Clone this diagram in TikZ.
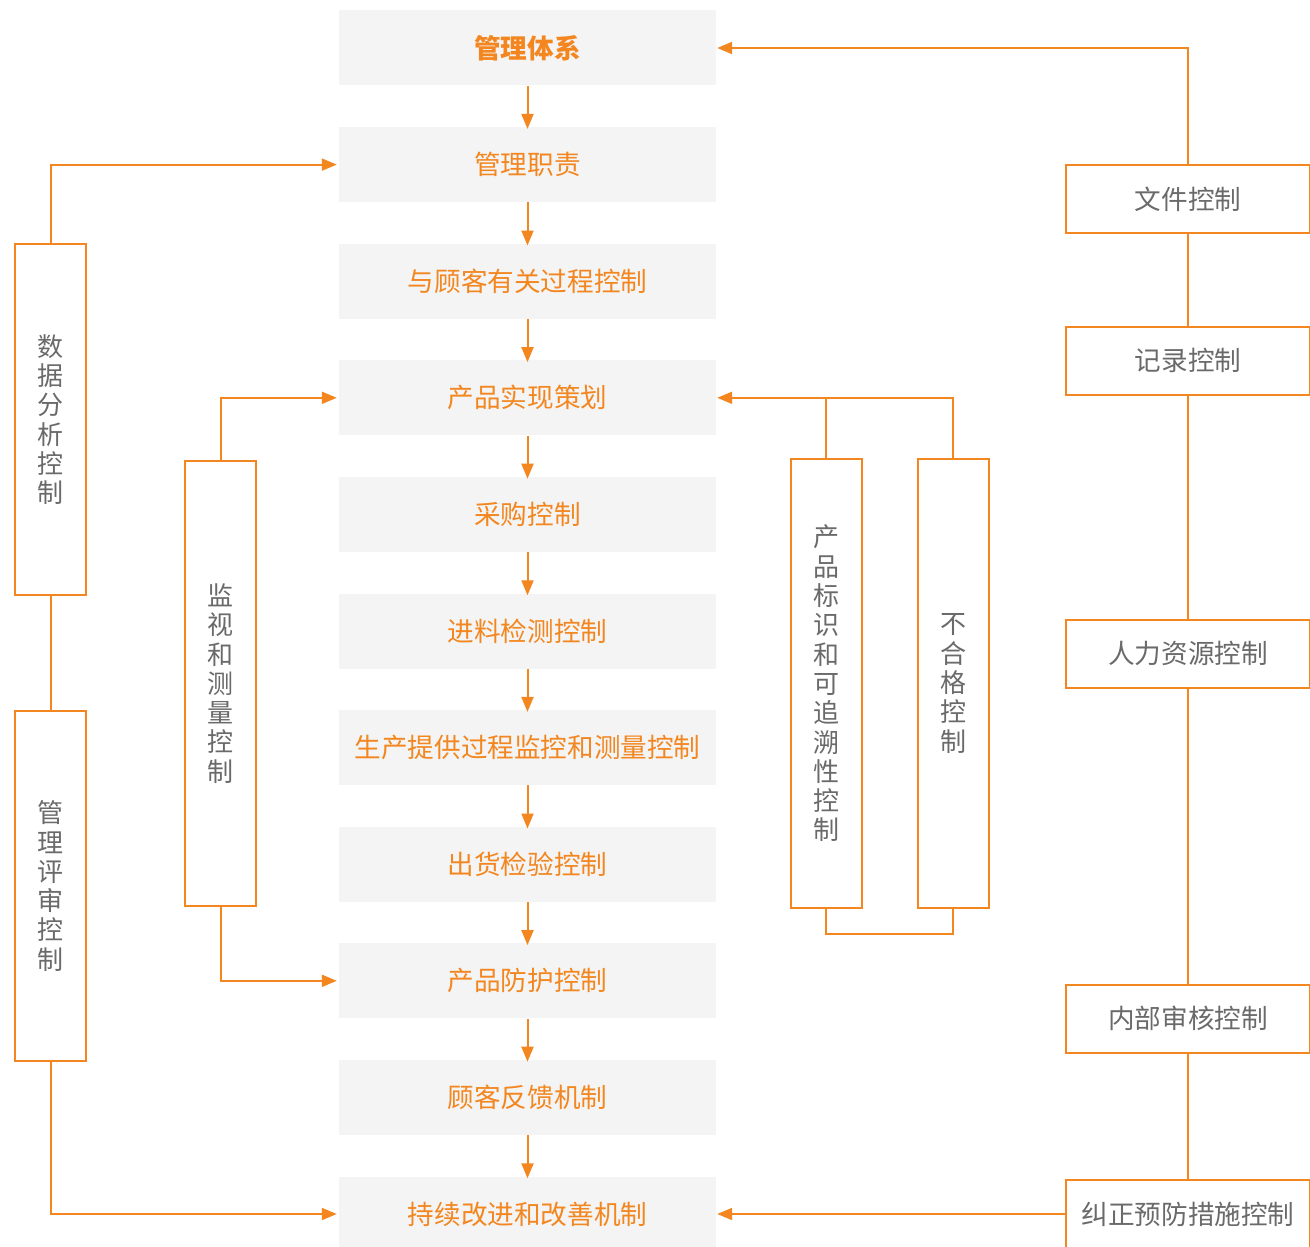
\documentclass[tikz,border=0pt]{standalone}
\usepackage{fontspec}
\setmainfont{Noto Sans CJK SC}
\usetikzlibrary{arrows.meta}
\definecolor{orng}{HTML}{F3861F}
\definecolor{boxgray}{HTML}{F4F4F4}
\definecolor{txtgray}{HTML}{6A6A6A}
\tikzset{
  mainbox/.style={fill=boxgray, minimum width=377pt, minimum height=75pt, inner sep=0pt, text=orng, font=\fontsize{26.6}{30}\selectfont},
  sidebox/.style={draw=orng, line width=2pt, fill=white, minimum width=244pt, minimum height=68pt, inner sep=0pt, text=txtgray, font=\fontsize{26.6}{30}\selectfont},
  vbox/.style={draw=orng, line width=2pt, fill=white, minimum width=71pt, inner sep=0pt, text=txtgray, align=center, font=\fontsize{26}{29.3}\selectfont},
  conn/.style={draw=orng, line width=2pt},
  arr/.style={conn, -{Triangle[length=15pt,width=12pt]}},
}
\begin{document}
\begin{tikzpicture}[x=1pt,y=-1pt]
\useasboundingbox (0,0) rectangle (1310,1247);
% main column
\node[mainbox, font=\fontsize{26.6}{30}\selectfont\bfseries] (c1) at (527.5,48) {管理体系};
\node[mainbox] (c2) at (527.5,164.6) {管理职责};
\node[mainbox] (c3) at (527.5,281.2) {与顾客有关过程控制};
\node[mainbox] (c4) at (527.5,397.8) {产品实现策划};
\node[mainbox] (c5) at (527.5,514.4) {采购控制};
\node[mainbox] (c6) at (527.5,631) {进料检测控制};
\node[mainbox] (c7) at (527.5,747.6) {生产提供过程监控和测量控制};
\node[mainbox] (c8) at (527.5,864.2) {出货检验控制};
\node[mainbox] (c9) at (527.5,980.8) {产品防护控制};
\node[mainbox] (c10) at (527.5,1097.4) {顾客反馈机制};
\node[mainbox] (c11) at (527.5,1214) {持续改进和改善机制};
\foreach \a/\b in {c1/c2,c2/c3,c3/c4,c4/c5,c5/c6,c6/c7,c7/c8,c8/c9,c9/c10,c10/c11}
  \draw[arr] (\a.south) -- ([yshift=-2pt]\b.north);
% right column
\node[sidebox] (r1) at (1188,199) {文件控制};
\node[sidebox] (r2) at (1188,360.5) {记录控制};
\node[sidebox] (r3) at (1188,653.5) {人力资源控制};
\node[sidebox] (r4) at (1188,1018.5) {内部审核控制};
\node[sidebox] (r5) at (1188,1214) {纠正预防措施控制};
\draw[conn] (r1) -- (r2);
\draw[conn] (r2) -- (r3);
\draw[conn] (r3) -- (r4);
\draw[conn] (r4) -- (r5);
\draw[arr] (r1.north) |- ([xshift=1pt]c1.east);
\draw[arr] (r5.west) -- ([xshift=1pt]c11.east);
% left column
\node[vbox, minimum height=351pt] (l1) at (50.5,419.5) {数\\据\\分\\析\\控\\制};
\node[vbox, minimum height=350pt] (l2) at (50.5,886) {管\\理\\评\\审\\控\\制};
\draw[conn] (l1) -- (l2);
\draw[arr] (l1.north) |- ([xshift=-2pt]c2.west);
\draw[arr] (l2.south) |- ([xshift=-2pt]c11.west);
% monitoring
\node[vbox, minimum height=445pt] (m) at (220.5,683.5) {监\\视\\和\\测\\量\\控\\制};
\draw[arr] (m.north) |- ([xshift=-2pt]c4.west);
\draw[arr] (m.south) |- ([xshift=-2pt]c9.west);
% product identification / nonconformity
\node[vbox, minimum height=449pt] (p1) at (826,683.5) {产\\品\\标\\识\\和\\可\\追\\溯\\性\\控\\制};
\node[vbox, minimum height=449pt] (p2) at (953,683.5) {不\\合\\格\\控\\制};
\draw[arr] (p2.north) |- ([xshift=1pt]c4.east);
\draw[conn] (p1.north) -- (p1.north |- c4.east);
\draw[conn] (p1.south) -- ++(0,25) -| (p2.south);
\end{tikzpicture}
\end{document}
